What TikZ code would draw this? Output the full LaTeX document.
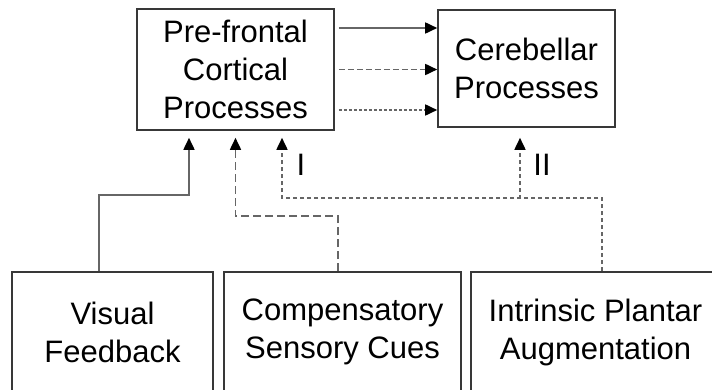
\documentclass[tikz,border=0pt]{standalone}
\usepackage{fontspec}
\setmainfont{Liberation Sans}
\usetikzlibrary{arrows.meta}
\begin{document}
\begin{tikzpicture}[x=1pt,y=-1pt,
  box/.style={draw=black!78,line width=1.6pt,align=center,inner sep=0pt,
    font=\fontsize{31}{38}\selectfont},
  lab/.style={inner sep=0pt,font=\fontsize{31}{38}\selectfont},
  conn/.style={draw=black!60,line width=1.7pt,-{Triangle[length=12pt,width=11pt,fill=black,color=black]}},
  longdash/.style={dash pattern=on 8pt off 4pt},
  middash/.style={dash pattern=on 6pt off 3pt},
  shortdot/.style={dash pattern=on 4pt off 3pt},
  tinydot/.style={dash pattern=on 3pt off 2pt}]
\clip (0,0) rectangle (712,390);
\fill[white] (0,0) rectangle (712,390);
% boxes
\node[box,minimum width=197pt,minimum height=121pt] (pfc) at (235.5,69.5) {Pre-frontal\\Cortical\\Processes};
\node[box,minimum width=177pt,minimum height=117pt] (cer) at (526.5,68.5) {Cerebellar\\Processes};
\node[box,minimum width=201pt,minimum height=120pt] (vis) at (112.5,332) {Visual\\Feedback};
\node[box,minimum width=237pt,minimum height=120pt] (comp) at (342.5,332) {Compensatory\\Sensory Cues};
\node[box,minimum width=249pt,minimum height=120pt] (intr) at (595.5,332) {Intrinsic Plantar\\Augmentation};
% top arrows
\draw[conn,shorten <=4pt] ([yshift=41.5pt]pfc.east) -- ([yshift=41.5pt]pfc.east -| cer.west);
\draw[conn,middash,shorten <=4pt] (pfc.east) -- (pfc.east -| cer.west);
\draw[conn,tinydot,shorten <=4pt] ([yshift=-40.5pt]pfc.east) -- ([yshift=-40.5pt]pfc.east -| cer.west);
% upward connectors
\draw[conn,shorten >=7pt] ([xshift=-13.5pt]vis.north) -- ++(0,-76) -| ([xshift=-46.5pt]pfc.south);
\draw[conn,longdash,shorten >=7pt] ([xshift=-4.5pt]comp.north) -- ++(0,-55) -| (pfc.south);
\coordinate (split) at (520,199);
\draw[conn,shortdot,shorten >=7pt] ([xshift=6.5pt]intr.north) -- ++(0,-73) -| ([xshift=46.5pt]pfc.south);
\draw[conn,shortdot,shorten >=10pt] (split) -- (split |- cer.south);
% labels
\node[lab] (labI) at (301,165) {I};
\node[lab] (labII) at (542,165) {II};
\end{tikzpicture}
\end{document}
